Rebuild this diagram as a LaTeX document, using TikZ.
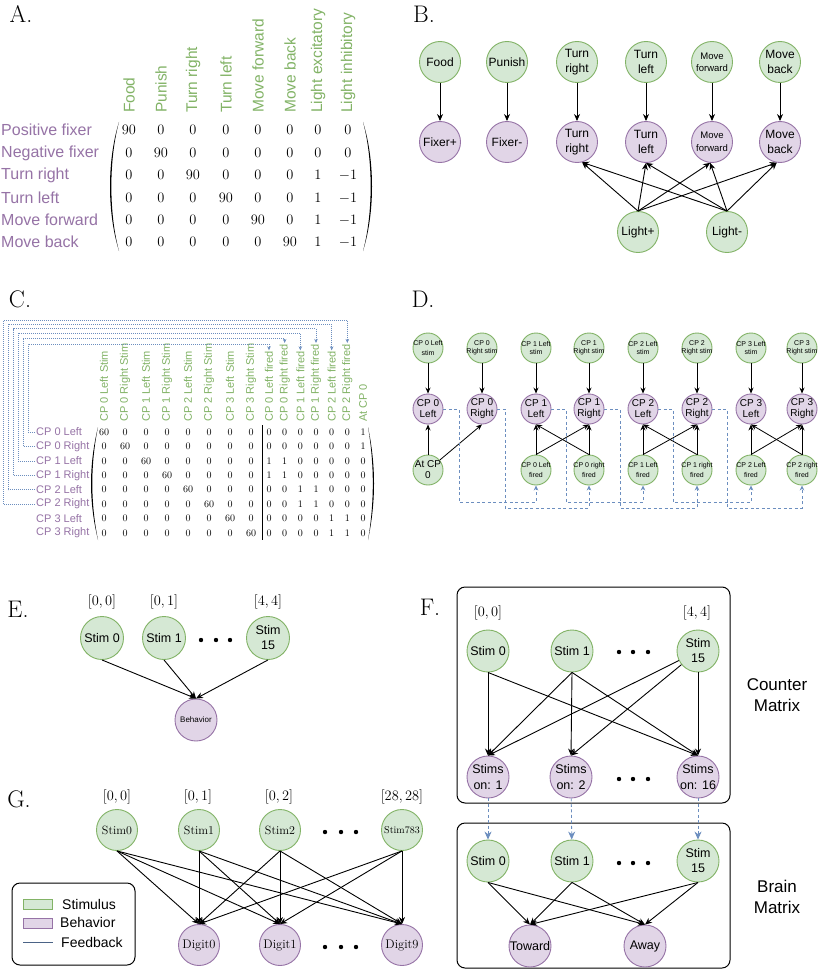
\documentclass[tikz,border=0pt]{standalone}
\usepackage{fontspec}
\newfontfamily\hv{Liberation Sans}
\usetikzlibrary{arrows.meta}
\definecolor{gfill}{HTML}{D5E8D4}
\definecolor{gline}{HTML}{82B366}
\definecolor{gtext}{HTML}{82B366}
\definecolor{pfill}{HTML}{E1D5E7}
\definecolor{pline}{HTML}{9673A6}
\definecolor{ptext}{HTML}{9673A6}
\definecolor{fblue}{HTML}{6C8EBF}
\tikzset{
  plabel/.style={inner sep=0pt,font=\fontsize{24}{26}\selectfont},
  gn/.style={circle,draw=gline,fill=gfill,line width=0.9pt,inner sep=-8pt,align=center},
  pn/.style={circle,draw=pline,fill=pfill,line width=0.9pt,inner sep=-8pt,align=center},
  ar/.style={-{Stealth[length=7pt,width=6pt]},line width=0.9pt},
  sar/.style={-{Stealth[length=6pt,width=5pt]},line width=0.8pt},
  fbdash/.style={fblue,dash pattern=on 3pt off 2.5pt,line width=0.8pt,-{Stealth[length=6pt,width=5pt]}},
  fbdot/.style={fblue,dash pattern=on 1pt off 1pt,line width=0.6pt,-{Stealth[length=4pt,width=3.5pt]}},
  ahdr/.style={rotate=90,anchor=west,inner sep=0pt,text=gtext,font=\hv\fontsize{15.5}{17}\selectfont},
  arow/.style={anchor=west,inner sep=0pt,text=ptext,font=\hv\fontsize{16}{18}\selectfont},
  anum/.style={inner sep=0pt,font=\fontsize{15}{17}\selectfont},
  chdr/.style={rotate=90,anchor=west,inner sep=1pt,text=gtext,font=\hv\fontsize{11}{12}\selectfont},
  crow/.style={anchor=west,inner sep=1pt,text=ptext,font=\hv\fontsize{11}{12}\selectfont},
  cnum/.style={inner sep=0pt,font=\fontsize{10}{11}\selectfont},
  idx/.style={inner sep=0pt,font=\fontsize{14.5}{16}\selectfont},
  bg/.style={gn,minimum size=41pt,font=\hv\fontsize{12}{14.3}\selectfont},
  bp/.style={pn,minimum size=41pt,font=\hv\fontsize{12}{14.3}\selectfont},
  dg/.style={gn,minimum size=30pt,font=\hv\fontsize{7}{8}\selectfont},
  dgf/.style={gn,minimum size=30pt,font=\hv\fontsize{7}{10}\selectfont},
  dp/.style={pn,minimum size=30pt,font=\hv\fontsize{10}{11}\selectfont},
  eg/.style={gn,minimum size=43pt,font=\hv\fontsize{12.5}{15}\selectfont},
  ep/.style={pn,minimum size=42pt,font=\hv\fontsize{12.5}{15.5}\selectfont},
  gg/.style={gn,minimum size=41pt,font=\fontsize{12}{14}\selectfont},
  gp/.style={pn,minimum size=41pt,font=\fontsize{12.5}{14}\selectfont},
  box/.style={rounded corners=8pt,line width=1pt},
  side/.style={inner sep=0pt,align=center,font=\hv\fontsize{17}{21}\selectfont},
  leg/.style={anchor=west,inner sep=0pt,font=\hv\fontsize{14}{16}\selectfont},
}
\begin{document}
\begin{tikzpicture}[x=1pt,y=-1pt]
\fill[white] (0,0) rectangle (818,971);
\useasboundingbox (0,0) rectangle (818,971);

% panel letters
\node[plabel] (lA) at (21,14) {A.};
\node[plabel] (lB) at (424,14) {B.};
\node[plabel] (lC) at (20,299) {C.};
\node[plabel] (lD) at (423,299) {D.};
\node[plabel] (lE) at (18,609) {E.};
\node[plabel] (lF) at (430,607) {F.};
\node[plabel] (lG) at (19,799) {G.};

% ---------------- A ----------------
\def\colA{{129,161,193,226,258,290,318,348}}
\def\rowA{{130,153,175,198,220,242}}
\foreach \t [count=\c from 0] in {Food,Punish,Turn right,Turn left,Move forward,Move back,Light excitatory,Light inhibitory}{
  \pgfmathsetmacro\xx{\colA[\c]}
  \node[ahdr] (ah\c) at (\xx,113) {\t};
}
\foreach \t [count=\r from 0] in {Positive fixer,Negative fixer,Turn right,Turn left,Move forward,Move back}{
  \pgfmathsetmacro\yy{\rowA[\r]}
  \node[arow] (arl\r) at (1,\yy) {\t};
}
\foreach \row [count=\r from 0] in {{90,0,0,0,0,0,0,0},{0,90,0,0,0,0,0,0},{0,0,90,0,0,0,1,-1},{0,0,0,90,0,0,1,-1},{0,0,0,0,90,0,1,-1},{0,0,0,0,0,90,1,-1}}{
  \pgfmathsetmacro\yy{\rowA[\r]}
  \foreach \v [count=\c from 0] in \row {
    \pgfmathsetmacro\xx{\colA[\c]}
    \node[anum] (a-\r-\c) at (\xx,\yy) {$\v$};
  }
}
\fill (119,122) .. controls (107,160) and (107,213) .. (119,251) .. controls (108.8,213) and (108.8,160) .. (119,122) -- cycle;
\fill (363,122) .. controls (375,160) and (375,213) .. (363,251) .. controls (373.2,213) and (373.2,160) .. (363,122) -- cycle;

% ---------------- B ----------------
\node[bg] (bfood) at (440,62) {Food};
\node[bg] (bpun) at (507,62) {Punish};
\node[bg] (btr) at (577,62) {Turn\\right};
\node[bg] (btl) at (646,62) {Turn\\left};
\node[bg,font=\hv\fontsize{9.5}{12}\selectfont] (bmf) at (712,62) {Move\\forward};
\node[bg] (bmb) at (780,62) {Move\\back};
\node[bp] (bfp) at (440,142) {Fixer+};
\node[bp] (bfm) at (507,142) {Fixer-};
\node[bp] (btr2) at (577,142) {Turn\\right};
\node[bp] (btl2) at (646,142) {Turn\\left};
\node[bp,font=\hv\fontsize{9.5}{13}\selectfont] (bmf2) at (712,142) {Move\\forward};
\node[bp] (bmb2) at (780,142) {Move\\back};
\node[bg] (blp) at (638,232) {Light+};
\node[bg] (blm) at (727,232) {Light-};
\draw[ar] (bfood) -- (bfp);
\draw[ar] (bpun) -- (bfm);
\draw[ar] (btr) -- (btr2);
\draw[ar] (btl) -- (btl2);
\draw[ar] (bmf) -- (bmf2);
\draw[ar] (bmb) -- (bmb2);
\foreach \s in {blp,blm}{
  \draw[ar] (\s.north) -- (btr2.-76);
  \draw[ar] (\s.north) -- (btl2.south);
  \draw[ar] (\s.north) -- (bmf2.-95);
  \draw[ar] (\s.north) -- (bmb2.-99);
}

% ---------------- C ----------------
\foreach \t [count=\c from 0] in {CP 0 Left Stim,CP 0 Right Stim,CP 1 Left Stim,CP 1 Right Stim,CP 2 Left Stim,CP 2 Right Stim,CP 3 Left Stim,CP 3 Right Stim,CP 0 Left fired,CP 0 Right fired,CP 1 Left fired,CP 1 Right fired,CP 2 Left fired,CP 2 Right fired,At CP 0}{
  \pgfmathsetmacro\xx{\c<8 ? 104+21*\c : 269+15.67*(\c-8)}
  \node[chdr] (ch\c) at (\xx,423) {\t};
}
\foreach \t [count=\r from 0] in {CP 0 Left,CP 0 Right,CP 1 Left,CP 1 Right,CP 2 Left,CP 2 Right,CP 3 Left,CP 3 Right}{
  \node[crow] (cl\r) at (35,{432+14.43*\r}) {\t};
}
\foreach \row [count=\r from 0] in {
  {60,0,0,0,0,0,0,0,0,0,0,0,0,0,1},
  {0,60,0,0,0,0,0,0,0,0,0,0,0,0,1},
  {0,0,60,0,0,0,0,0,1,1,0,0,0,0,0},
  {0,0,0,60,0,0,0,0,1,1,0,0,0,0,0},
  {0,0,0,0,60,0,0,0,0,0,1,1,0,0,0},
  {0,0,0,0,0,60,0,0,0,0,1,1,0,0,0},
  {0,0,0,0,0,0,60,0,0,0,0,0,1,1,0},
  {0,0,0,0,0,0,0,60,0,0,0,0,1,1,0}}{
  \pgfmathsetmacro\yy{432+14.43*\r}
  \foreach \v [count=\c from 0] in \row {
    \pgfmathsetmacro\xx{\c<8 ? 104+21*\c : 269+15.67*(\c-8)}
    \node[cnum] (c-\r-\c) at (\xx,\yy) {$\v$};
  }
}
\fill (98,427) .. controls (88.7,465) and (88.7,502) .. (98,540) .. controls (90.4,502) and (90.4,465) .. (98,427) -- cycle;
\fill (368,427) .. controls (376,465) and (376,502) .. (368,540) .. controls (374.4,502) and (374.4,465) .. (368,427) -- cycle;
\draw[line width=0.8pt] (262,425) -- (262,540);
\foreach \r/\xl/\yt in {0/28/344,1/23/338.5,2/18/333,3/13/328.5,4/8/324,5/3.5/320}{
  \pgfmathtruncatemacro\cc{\r+8}
  \draw[fbdot] (cl\r.west) -| (\xl,\yt) -| (ch\cc.east);
}

% ---------------- D ----------------
\node[dg] (ds0) at (428,348) {CP 0 Left\\[2pt]stim};
\node[dg] (ds1) at (482,348) {CP 0\\Right stim};
\node[dg] (ds2) at (536,348) {CP 1 Left\\stim};
\node[dg] (ds3) at (589,348) {CP 1\\Right stim};
\node[dg] (ds4) at (643,348) {CP 2 Left\\stim};
\node[dg] (ds5) at (697,348) {CP 2\\Right stim};
\node[dg] (ds6) at (751,348) {CP 3 Left\\stim};
\node[dg] (ds7) at (802,348) {CP 3\\Right stim};
\node[dp] (dc0) at (428,409) {CP 0\\Left};
\node[dp] (dc1) at (482,409) {CP 0\\Right};
\node[dp] (dc2) at (536,409) {CP 1\\Left};
\node[dp] (dc3) at (589,409) {CP 1\\Right};
\node[dp] (dc4) at (643,409) {CP 2\\Left};
\node[dp] (dc5) at (697,409) {CP 2\\Right};
\node[dp] (dc6) at (751,409) {CP 3\\Left};
\node[dp] (dc7) at (802,409) {CP 3\\Right};
\node[gn,minimum size=30pt,font=\hv\fontsize{10}{11}\selectfont] (dat) at (428,470) {At CP\\0};
\node[dgf] (df0) at (536,470) {CP 0 Left\\fired};
\node[dgf] (df1) at (589,470) {CP 0 right\\fired};
\node[dgf] (df2) at (643,470) {CP 1 Left\\fired};
\node[dgf] (df3) at (697,470) {CP 1 right\\fired};
\node[dgf] (df4) at (751,470) {CP 2 Left\\fired};
\node[dgf] (df5) at (802,470) {CP 2 right\\fired};
\foreach \i in {0,...,7}{ \draw[sar] (ds\i) -- (dc\i); }
\draw[sar] (dat) -- (dc0);
\draw[sar] (dat) -- (dc1.south);
\foreach \a/\b/\l/\r in {df0/df1/dc2/dc3, df2/df3/dc4/dc5, df4/df5/dc6/dc7}{
  \draw[sar] (\a.north) -- (\l.south);
  \draw[sar] (\a.north) -- (\r.south);
  \draw[sar] (\b.north) -- (\r.south);
  \draw[sar] (\b.north) -- (\l.south);
}
\foreach \s/\xt/\yb/\t in {dc0/459/502/df0, dc1/505/508/df1, dc2/566/502/df2, dc3/620/508/df3, dc4/673/502/df4, dc5/727/508/df5}{
  \draw[fbdash,-{Stealth[length=5pt,width=4.5pt]}] (\s.east) -| (\xt,\yb) -| (\t.south);
}

% ---------------- E ----------------
\node[idx] (ei0) at (102,602) {$[0,0]$};
\node[idx] (ei1) at (164,602) {$[0,1]$};
\node[idx] (ei2) at (268,602) {$[4,4]$};
\node[eg] (es0) at (102,638) {Stim 0};
\node[eg] (es1) at (164,638) {Stim 1};
\node[eg] (es2) at (268,638) {Stim\\15};
\node[pn,minimum size=42pt,font=\hv\fontsize{8}{9}\selectfont] (ebeh) at (196,720) {Behavior};
\foreach \x in {201,216,230}{ \fill (\x,640) circle (2.2pt); }
\draw[ar] (es0.south) -- (ebeh.north);
\draw[ar] (es1.south) -- (ebeh.north);
\draw[ar] (es2.south) -- (ebeh.north);

% ---------------- F ----------------
\draw[box] (457,587) rectangle (730,803);
\draw[box] (457,823) rectangle (730,968);
\node[idx] (fi0) at (488,613) {$[0,0]$};
\node[idx] (fi1) at (697,613) {$[4,4]$};
\node[eg,minimum size=42pt] (fs0) at (488,651) {Stim 0};
\node[eg,minimum size=42pt] (fs1) at (572,651) {Stim 1};
\node[eg,minimum size=42pt] (fs2) at (698,651) {Stim\\15};
\node[ep] (fo1) at (488,777) {Stims\\on: 1};
\node[ep] (fo2) at (571,777) {Stims\\on: 2};
\node[ep] (fo3) at (698,777) {Stims\\on: 16};
\foreach \x in {619,633,648}{ \fill (\x,652) circle (2.2pt); \fill (\x,779) circle (2.2pt); \fill (\x,863) circle (2.2pt); }
\draw[ar] (fs0.south) -- (fo1.north);
\draw[ar] (fs0.south) -- (fo3.north);
\draw[ar] (fs1.south) -- (fo1.north);
\draw[ar] (fs1.south) -- (fo2.north);
\draw[ar] (fs1.south) -- (fo3.north);
\draw[ar] (fs2) -- (fo1.north);
\draw[ar] (fs2) -- (fo2.north);
\draw[ar] (fs2.south) -- (fo3.north);
\node[side] (fcm) at (777,695) {Counter\\Matrix};
\node[eg,minimum size=42pt] (fb0) at (488,861) {Stim 0};
\node[eg,minimum size=42pt] (fb1) at (572,861) {Stim 1};
\node[eg,minimum size=42pt] (fb2) at (698,861) {Stim\\15};
\node[ep] (ftw) at (530,946) {Toward};
\node[ep] (faw) at (645,946) {Away};
\draw[fbdash,-{Stealth[length=8pt,width=7pt]}] (fo1) -- (fb0);
\draw[fbdash,-{Stealth[length=8pt,width=7pt]}] (fo2) -- (fb1);
\draw[fbdash,-{Stealth[length=8pt,width=7pt]}] (fo3) -- (fb2);
\foreach \s in {fb0,fb1,fb2}{
  \draw[ar] (\s.south) -- (ftw.north);
  \draw[ar] (\s.south) -- (faw.north);
}
\node[side] (fbm) at (777,897) {Brain\\Matrix};

% ---------------- G ----------------
\node[idx] (gi0) at (117,797) {$[0,0]$};
\node[idx] (gi1) at (198,797) {$[0,1]$};
\node[idx] (gi2) at (279,797) {$[0,2]$};
\node[idx] (gi3) at (402,797) {$[28,28]$};
\node[gg] (gs0) at (117,830) {Stim0};
\node[gg] (gs1) at (199,830) {Stim1};
\node[gg] (gs2) at (280,830) {Stim2};
\node[gg,font=\fontsize{10}{12}\selectfont] (gs3) at (402,830) {Stim783};
\node[gp] (gd0) at (199,945) {Digit0};
\node[gp] (gd1) at (280,945) {Digit1};
\node[gp] (gd9) at (402,945) {Digit9};
\foreach \x in {325,341,356}{ \fill (\x,832) circle (2.2pt); \fill (\x,947) circle (2.2pt); }
\foreach \s in {gs0,gs1,gs2,gs3}{
  \foreach \t in {gd0,gd1,gd9}{
    \draw[ar] (\s.south) -- (\t.north);
  }
}
% legend
\draw[box] (12,883) rectangle (135,965);
\node[draw=gline,fill=gfill,line width=0.8pt,minimum width=29pt,minimum height=10pt,inner sep=0pt] (lg1) at (37.5,904) {};
\node[leg] (lt1) at (62,904) {Stimulus};
\node[draw=pline,fill=pfill,line width=0.8pt,minimum width=29pt,minimum height=10pt,inner sep=0pt] (lg2) at (37.5,923) {};
\node[leg] (lt2) at (60,922) {Behavior};
\coordinate (lf1) at (23,942);
\coordinate (lf2) at (53,942);
\draw[fblue!70!black,line width=1pt] (lf1) -- (lf2);
\node[leg] (lt3) at (61,942) {Feedback};
\end{tikzpicture}
\end{document}
